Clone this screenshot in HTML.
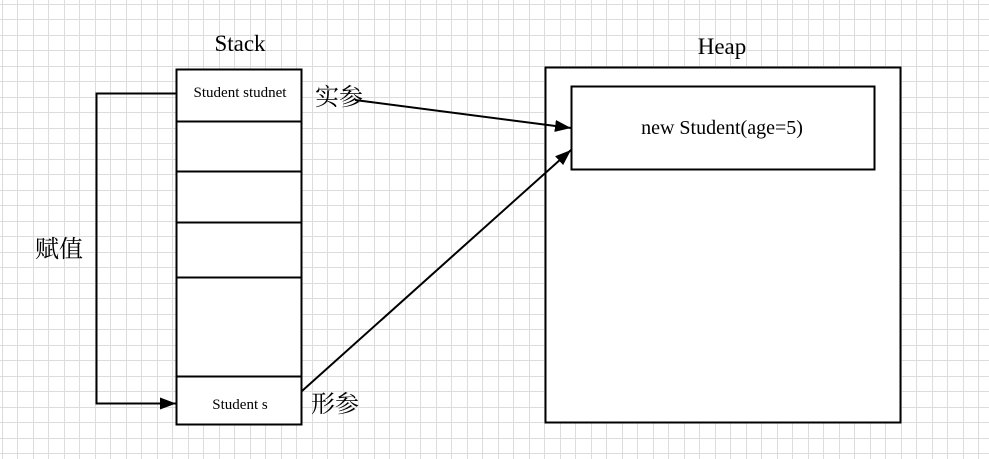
<!DOCTYPE html>
<html><head><meta charset="utf-8"><style>
html,body{margin:0;padding:0;background:#fff}
svg{display:block}
text{font-family:"Liberation Serif","Noto Serif CJK SC",serif;fill:#000}
</style></head><body>
<svg id="svg" width="989" height="459" viewBox="0 0 989 459">
<defs>
<marker id="ah" markerWidth="16" markerHeight="12" refX="16" refY="6" orient="auto" markerUnits="userSpaceOnUse">
<path d="M0 0L16 6L0 12Z" fill="#000"/>
</marker>
</defs>
<g id="grid" stroke="#dcdcdc" stroke-width="1"></g>
<text x="240" y="51" font-size="23" text-anchor="middle">Stack</text>
<text x="722" y="54" font-size="23" text-anchor="middle">Heap</text>
<g stroke="#000" stroke-width="2" fill="#fff">
<rect x="176.5" y="69.5" width="125" height="355"/>
<path d="M176 121.5H302M176 171.5H302M176 222.5H302M176 277.5H302M176 376.5H302" fill="none"/>
</g>
<text x="240" y="97" font-size="15" text-anchor="middle">Student studnet</text>
<text x="240" y="409" font-size="15" text-anchor="middle">Student s</text>
<g stroke="#000" stroke-width="2" fill="#fff">
<rect x="545.5" y="67.5" width="355" height="355"/>
<rect x="571.5" y="86.5" width="303" height="83"/>
</g>
<text x="722" y="134" font-size="20" text-anchor="middle">new Student(age=5)</text>
<path d="M176 93.5H96.5V403.5H176" fill="none" stroke="#000" stroke-width="2" marker-end="url(#ah)"/>
<path d="M355 100L571 128" fill="none" stroke="#000" stroke-width="2" marker-end="url(#ah)"/>
<path d="M302 391L571 150" fill="none" stroke="#000" stroke-width="2" marker-end="url(#ah)"/>
<text x="315" y="105" font-size="24">实参</text>
<text x="311" y="412" font-size="24">形参</text>
<text x="35" y="257" font-size="24">赋值</text>
</svg>
<script>
var g=document.getElementById('grid'),s='';
for(var x=1.5;x<989;x+=15.5){var px=Math.round(x)+0.5;s+='<line x1="'+px+'" y1="0" x2="'+px+'" y2="459"/>';}
for(var y=3.5;y<459;y+=15.5){var py=Math.round(y)+0.5;s+='<line x1="0" y1="'+py+'" x2="989" y2="'+py+'"/>';}
g.innerHTML=s;
</script>
</body></html>
